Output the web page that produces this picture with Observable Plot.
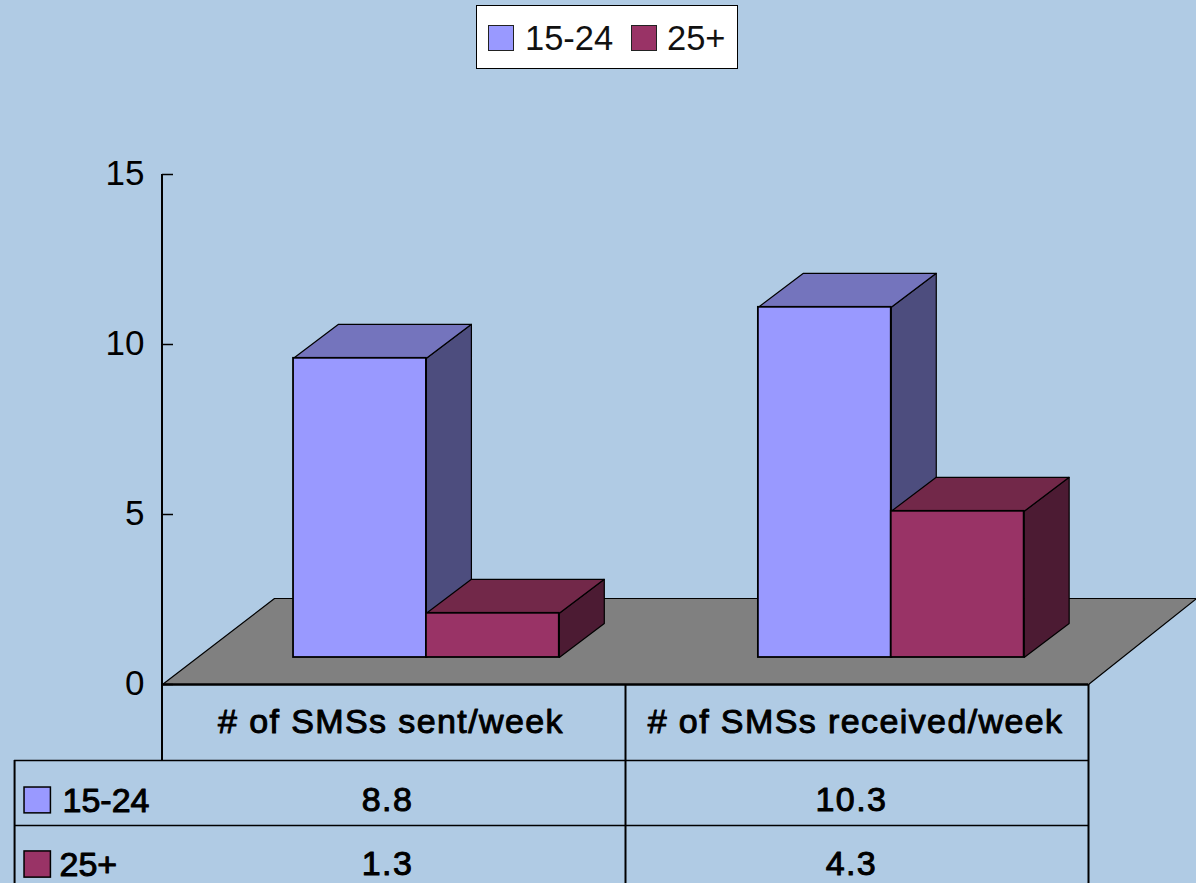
<!DOCTYPE html>
<html>
<head>
<meta charset="utf-8">
<script src="https://cdn.jsdelivr.net/npm/d3@7"></script>
<script src="https://cdn.jsdelivr.net/npm/@observablehq/plot@0.6"></script>
<style>
  html, body { margin: 0; padding: 0; background: #b0cbe4; }
  body { width: 1196px; height: 883px; overflow: hidden; font-family: "Liberation Sans", Arial, sans-serif; }
  #legend { position: relative; height: 100px; }
  #legend .box { position: absolute; left: 476px; top: 5px; width: 260px; height: 62px; background: #fff; border: 1.5px solid #000; }
  #legend .sw { position: absolute; top: 25px; width: 24px; height: 24px; border: 1px solid #222; box-sizing: content-box; }
  #legend .lb { position: absolute; top: 18px; font-size: 34.5px; line-height: 40px; color: #111; white-space: nowrap; }
  svg { display: block; }
</style>
</head>
<body>
<div id="legend"></div>
<div id="chart"></div>
<script>
const categories = ["# of SMSs sent/week", "# of SMSs received/week"];
const seriesNames = ["15-24", "25+"];
const values1524 = [8.8, 10.3];
const values25 = [1.3, 4.3];
const tableLabels1524 = ["8.8", "10.3"];
const tableLabels25 = ["1.3", "4.3"];
const yTicks = [0, 5, 10, 15];

const colors = [
  {front: "#9999ff", top: "#7474bd", side: "#4d4d7e"},
  {front: "#993366", top: "#722849", side: "#4c1b33"}
];

// layout in scale units: x = category slots, y = chart units
const barStart = [0.283, 1.287];
const barWidth = 0.287;
const depthX = 0.0972, depthY = 1.0;
const floorBase = 0.794;
const floorDX = 0.2419, floorDY = 2.53;
const floorRightX = 2.2333;
const headerX = [0.4936, 1.497], valueX = [0.486, 1.488];
const headerY = -1.10, row1Y = -3.40, row2Y = -5.27;
const rule1Y = -2.235, rule2Y = -4.147, bottomY = -5.86;
const tableLeft = -0.3195;
const keyY = [[-3.03, -3.79], [-4.91, -5.68]];
const keyLabelX = [-0.2160, -0.2225], keyLabelY = [-3.43, -5.30];

const series = [values1524, values25];

function faces(si, kind) {
  const out = [];
  series[si].forEach((v, ci) => {
    const x0 = barStart[ci] + si * barWidth, x1 = x0 + barWidth;
    const y0 = floorBase, y1 = floorBase + v;
    const pts = kind === "top"
      ? [[x0, y1], [x1, y1], [x1 + depthX, y1 + depthY], [x0 + depthX, y1 + depthY]]
      : [[x1, y0], [x1 + depthX, y0 + depthY], [x1 + depthX, y1 + depthY], [x1, y1]];
    pts.forEach(([x, y]) => out.push({x, y, id: `${si}-${ci}-${kind}`}));
  });
  return out;
}
function fronts(si) {
  return series[si].map((v, ci) => ({
    x1: barStart[ci] + si * barWidth, x2: barStart[ci] + (si + 1) * barWidth,
    y1: floorBase, y2: floorBase + v
  }));
}

const floor = [
  {x: 0, y: 0}, {x: 2, y: 0},
  {x: floorRightX, y: floorDY}, {x: floorDX, y: floorDY}
];

const textBase = {fontSize: 34, fill: "#000", stroke: "#000", strokeWidth: 1, lineAnchor: "middle"};

const marks = [
  Plot.line(floor, {x: "x", y: "y", fill: "#808080", stroke: "#000", strokeWidth: 1.2, curve: "linear-closed"})
];
[0, 1].forEach(si => {
  marks.push(
    Plot.line(faces(si, "side"), {x: "x", y: "y", z: "id", fill: colors[si].side, stroke: "#000", strokeWidth: 1.2, curve: "linear-closed"}),
    Plot.line(faces(si, "top"), {x: "x", y: "y", z: "id", fill: colors[si].top, stroke: "#000", strokeWidth: 1.2, curve: "linear-closed"}),
    Plot.rect(fronts(si), {x1: "x1", x2: "x2", y1: "y1", y2: "y2", fill: colors[si].front, stroke: "#000", strokeWidth: 1.8})
  );
});

marks.push(
  // axis
  Plot.ruleX([0], {y1: rule1Y, y2: 15, stroke: "#000", strokeWidth: 2, dx: -0.5}),
  Plot.ruleY(yTicks, {x1: 0, x2: 0.0238, stroke: "#000", strokeWidth: 1.5}),
  Plot.axisY({ticks: yTicks, tickSize: 0, tickPadding: 18, dy: -1, fontSize: 35, fill: "#000", stroke: "#000", strokeWidth: 1, label: null, tickFormat: d => String(d)}),
  // table rules
  Plot.ruleY([0], {x1: 0, x2: 2, stroke: "#000", strokeWidth: 2.5}),
  Plot.ruleY([rule1Y, rule2Y], {x1: tableLeft, x2: 2, stroke: "#000", strokeWidth: 1.6}),
  Plot.ruleX([1, 2], {y1: 0, y2: bottomY, stroke: "#000", strokeWidth: 2}),
  Plot.ruleX([tableLeft], {y1: rule1Y, y2: bottomY, stroke: "#000", strokeWidth: 2}),
  // table text
  Plot.text(categories, {x: (_, i) => headerX[i], y: headerY, text: d => d, ...textBase}),
  Plot.text(tableLabels1524, {x: (_, i) => valueX[i], y: row1Y, text: d => d, ...textBase}),
  Plot.text(tableLabels25, {x: (_, i) => valueX[i], y: row2Y, text: d => d, ...textBase}),
  // table legend keys
  Plot.rect(seriesNames, {
    x1: -0.2980, x2: -0.2410,
    y1: (_, i) => keyY[i][0],
    y2: (_, i) => keyY[i][1],
    fill: (_, i) => colors[i].front, stroke: "#000", strokeWidth: 1.5
  }),
  Plot.text(seriesNames, {
    x: (_, i) => keyLabelX[i],
    y: (_, i) => keyLabelY[i],
    text: d => d, textAnchor: "start", ...textBase
  })
);

const chart = Plot.plot({
  width: 1196, height: 783,
  marginLeft: 162, marginRight: 108, marginTop: 74, marginBottom: 199,
  style: {background: "transparent", fontFamily: "'Liberation Sans', Arial, sans-serif", overflow: "visible"},
  x: {domain: [0, 2], axis: null},
  y: {domain: [0, 15]},
  color: {type: "identity"},
  marks
});
document.getElementById("chart").appendChild(chart);

// table text is slightly wider-set than the default
const spaced = new Set([...categories, ...tableLabels1524, ...tableLabels25]);
d3.select(chart).selectAll("text")
  .filter(function () { return spaced.has(this.textContent); })
  .style("letter-spacing", "1.4px");

// legend above the plot
const lg = d3.select("#legend");
lg.append("div").attr("class", "box");
const swX = [488, 631], lbX = [525, 667];
seriesNames.forEach((name, i) => {
  lg.append("div").attr("class", "sw").style("left", swX[i] + "px").style("background", colors[i].front);
  lg.append("div").attr("class", "lb").style("left", lbX[i] + "px").text(name);
});
</script>
</body>
</html>
